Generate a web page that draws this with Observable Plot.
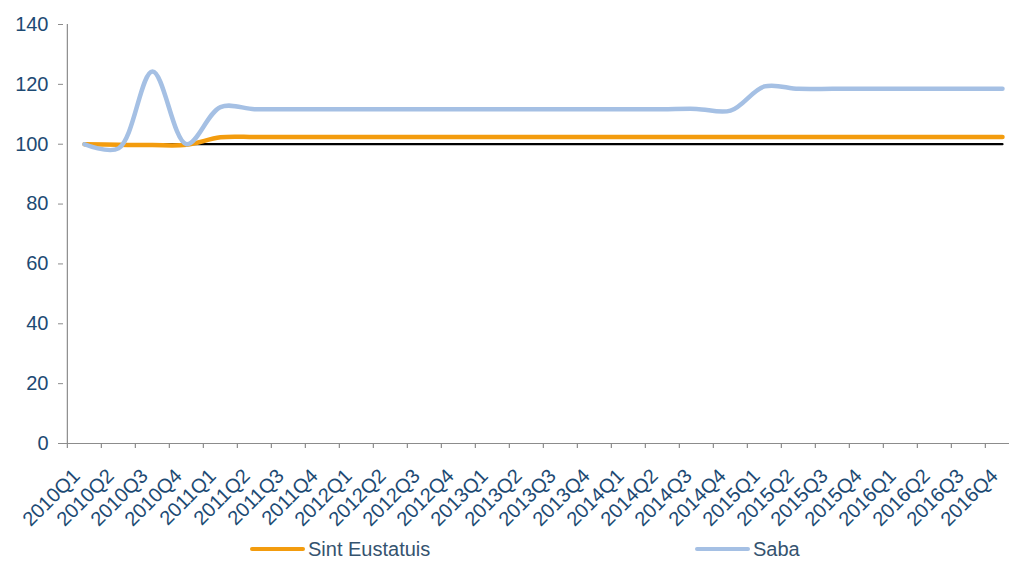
<!DOCTYPE html>
<html>
<head>
<meta charset="utf-8">
<script src="https://cdn.jsdelivr.net/npm/d3@7"></script>
<script src="https://cdn.jsdelivr.net/npm/@observablehq/plot@0.6"></script>
<style>
  html, body { margin: 0; padding: 0; background: #fff; overflow: hidden; }
  #wrap { width: 1009px; height: 563px; position: relative; font-family: "Liberation Sans", Arial, sans-serif; }
  #legend { position: relative; height: 28px; width: 1009px; }
  .item { position: absolute; top: 0; height: 28px; display: flex; align-items: center; font-size: 20px; color: #35536f; }
  .swatch { width: 55px; height: 4px; margin-right: 3px; border-radius: 2px; }
</style>
</head>
<body>
<div id="wrap">
  <div id="chart"></div>
  <div id="legend"></div>
</div>
<script>
const quarters = ["2010Q1","2010Q2","2010Q3","2010Q4","2011Q1","2011Q2","2011Q3","2011Q4",
  "2012Q1","2012Q2","2012Q3","2012Q4","2013Q1","2013Q2","2013Q3","2013Q4",
  "2014Q1","2014Q2","2014Q3","2014Q4","2015Q1","2015Q2","2015Q3","2015Q4",
  "2016Q1","2016Q2","2016Q3","2016Q4"];
const sintEustatius = [100, 99.8, 99.7, 99.8, 102.3, 102.4, 102.4, 102.4,
  102.4, 102.4, 102.4, 102.4, 102.4, 102.4, 102.4, 102.4,
  102.4, 102.4, 102.4, 102.4, 102.4, 102.4, 102.4, 102.4,
  102.4, 102.4, 102.4, 102.4];
const saba = [100, 98.6, 124.3, 100, 112.4, 111.7, 111.7, 111.7,
  111.7, 111.7, 111.7, 111.7, 111.7, 111.7, 111.7, 111.7,
  111.7, 111.7, 111.8, 111.2, 119.3, 118.5, 118.5, 118.5,
  118.5, 118.5, 118.5, 118.5];
const baseline = 100;
const yTicks = [0, 20, 40, 60, 80, 100, 120, 140];
const seriesNames = ["Sint Eustatuis", "Saba"];
const seriesColors = ["#F39C0E", "#A5C0E4"];

const rows = [];
quarters.forEach((q, i) => {
  rows.push({q, v: sintEustatius[i], s: seriesNames[0]});
  rows.push({q, v: saba[i], s: seriesNames[1]});
});
const baseRows = quarters.map(q => ({q, v: baseline}));

const x0 = 63, bw = 34.3;
const labelColor = "#1d4a73";
const axisColor = "#8c8c8c";

const chart = Plot.plot({
  width: 1009,
  height: 535,
  marginTop: 24,
  marginBottom: 92,
  marginLeft: 63,
  marginRight: 0,
  style: {fontFamily: "Liberation Sans, Arial, sans-serif", background: "#fff", overflow: "hidden"},
  x: {type: "band", domain: quarters, range: [x0, x0 + bw * quarters.length], padding: 0, label: null},
  y: {domain: [0, 140], ticks: yTicks, label: null},
  color: {domain: seriesNames, range: seriesColors},
  marks: [
    Plot.ruleY([0], {stroke: axisColor, strokeWidth: 1.2}),
    Plot.ruleX([quarters[0]], {dx: -bw / 2, y1: 0, y2: 140, stroke: axisColor, strokeWidth: 1.2}),
    Plot.ruleX(quarters, {x: d => d, y1: 0, y2: 0, dx: -bw / 2, insetBottom: -5, stroke: axisColor, strokeWidth: 1.2}),
    Plot.axisY({ticks: yTicks, tickSize: 5, tickPadding: 10, fontSize: 20, color: labelColor, stroke: axisColor, tickFormat: d => String(d), label: null}),
    Plot.axisX({tickSize: 0, tickRotate: -45, tickPadding: 29, fontSize: 20, color: labelColor, dx: -8, label: null}),
    Plot.line(baseRows, {x: "q", y: "v", stroke: "#000", strokeWidth: 2.2}),
    Plot.line(rows, {x: "q", y: "v", z: "s", stroke: "s", strokeWidth: 4.5, curve: "catmull-rom"})
  ]
});
document.getElementById("chart").appendChild(chart);

const legend = document.getElementById("legend");
const lefts = [250, 695];
seriesNames.forEach((name, i) => {
  const it = document.createElement("div");
  it.className = "item";
  it.style.left = lefts[i] + "px";
  const sw = document.createElement("span");
  sw.className = "swatch";
  sw.style.background = seriesColors[i];
  const tx = document.createElement("span");
  tx.textContent = name;
  it.appendChild(sw); it.appendChild(tx);
  legend.appendChild(it);
});
</script>
</body>
</html>
